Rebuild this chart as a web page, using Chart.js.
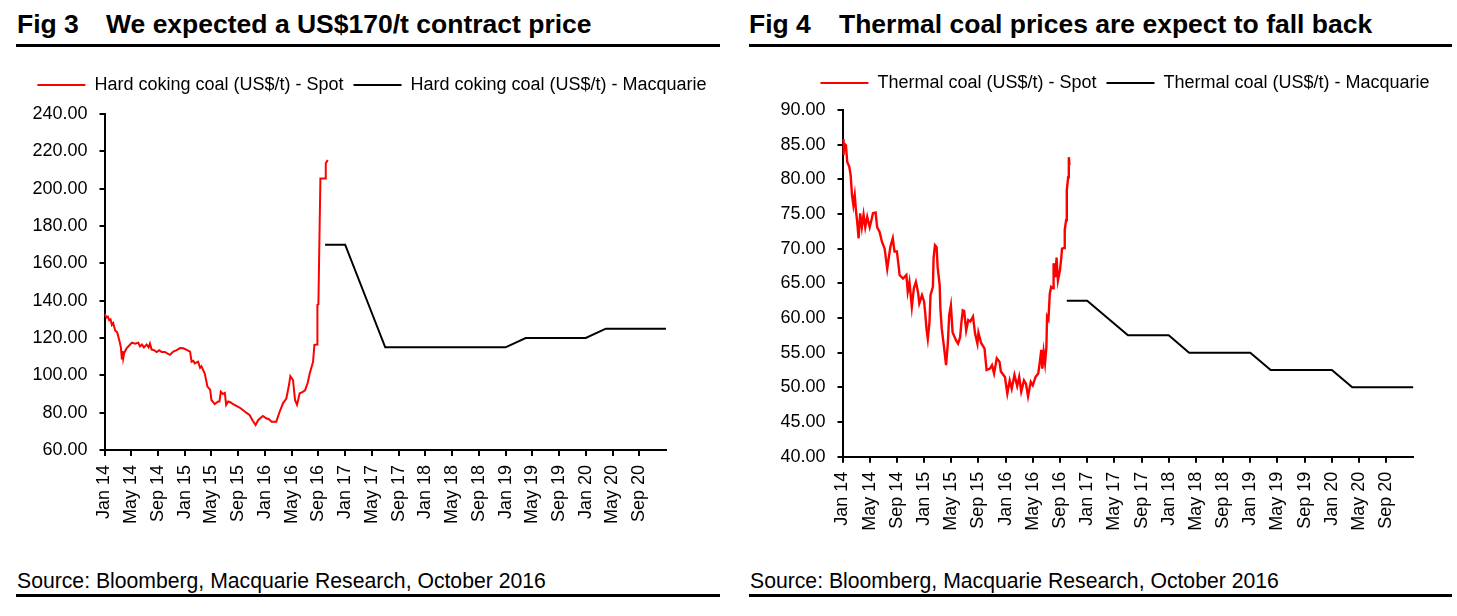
<!DOCTYPE html>
<html>
<head>
<meta charset="utf-8">
<script src="https://cdn.jsdelivr.net/npm/chart.js@4.4.1/dist/chart.umd.min.js"></script>
<style>
    body { margin: 0; width: 1457px; height: 616px; overflow: hidden; position: relative; background: #fff; color: #000; font-family: "Liberation Sans", Arial, sans-serif; }
    .title { position: absolute; top: 11px; font-weight: bold; font-size: 26.5px; line-height: 26.5px; white-space: nowrap; }
    .rule { position: absolute; height: 3px; background: #000; }
    .source { position: absolute; top: 570px; font-size: 21.2px; line-height: 21px; white-space: nowrap; }
    .box { position: absolute; }
</style>
</head>
<body>

<div class="title" style="left:17px">Fig 3</div>
<div class="title" style="left:106px">We expected a US$170/t contract price</div>
<div class="rule" style="left:16px; top:44px; width:704px"></div>
<div class="box" style="left:17px; top:56px; width:710px; height:490px"><canvas id="hcc-chart"></canvas></div>
<div class="source" style="left:17px">Source: Bloomberg, Macquarie Research, October 2016</div>
<div class="rule" style="left:16px; top:594px; width:704px"></div>

<div class="title" style="left:749px">Fig 4</div>
<div class="title" style="left:839px">Thermal coal prices are expect to fall back</div>
<div class="rule" style="left:749px; top:44px; width:703px"></div>
<div class="box" style="left:750px; top:54px; width:720px; height:490px"><canvas id="thermal-chart"></canvas></div>
<div class="source" style="left:750px">Source: Bloomberg, Macquarie Research, October 2016</div>
<div class="rule" style="left:749px; top:594px; width:703px"></div>

<script>
// x values are months since Jan 2014
const tickMonths = [0, 4, 8, 12, 16, 20, 24, 28, 32, 36, 40, 44, 48, 52, 56, 60, 64, 68, 72, 76, 80];
const tickLabels = ['Jan 14', 'May 14', 'Sep 14', 'Jan 15', 'May 15', 'Sep 15', 'Jan 16', 'May 16', 'Sep 16',
    'Jan 17', 'May 17', 'Sep 17', 'Jan 18', 'May 18', 'Sep 18', 'Jan 19', 'May 19', 'Sep 19', 'Jan 20', 'May 20', 'Sep 20'];

// Fig 3 - hard coking coal
const hccSpotMonths = [0, 0.3, 0.5, 0.7, 0.9, 1.1, 1.3, 1.6, 1.9, 2.2, 2.45, 2.6, 2.7, 2.8, 2.95, 3.3, 3.7, 4.1, 4.6, 5.05,
    5.3, 5.6, 5.9, 6.3, 6.6, 6.8, 7.05, 7.4, 7.8, 8.2, 8.55, 9.04, 9.5, 9.8, 10.3, 10.8, 11.3, 11.8, 12.3, 12.8,
    13.03, 13.3, 13.5, 14.0, 14.3, 14.5, 15.0, 15.4, 15.8, 16.0, 16.5, 17.0, 17.2, 17.4, 17.7, 18.0, 18.2, 18.5, 18.8, 19.3,
    19.8, 20.3, 20.7, 21.2, 21.7, 22.2, 22.6, 23.0, 23.7, 24.2, 24.6, 25.0, 25.7, 26.2, 26.7, 27.2, 27.6, 27.8, 28.2, 28.5,
    28.8, 29.2, 29.6, 30.0, 30.4, 30.7, 31.2, 31.4, 31.8, 31.85, 32.0, 32.1, 32.3, 33.0, 33.1, 33.4];
const hccSpotPrices = [133, 131, 131.5, 129.5, 130, 127, 128, 124, 123, 119, 115, 108.5, 113, 109, 112, 114.5, 116, 117.5, 117, 117.5,
    115.5, 116.5, 115, 116.5, 115, 117, 113.8, 113.5, 112.5, 113.5, 112.5, 112.5, 111.5, 111, 112.7, 113.5, 114.6, 114.5, 113.6, 112.7,
    107.3, 107.8, 106.4, 107.3, 104, 104.8, 101, 94, 92.3, 86.8, 84.6, 86, 86, 91.2, 90, 90.6, 84.2, 86, 85.6, 84.5,
    83.5, 82.5, 81.4, 80, 78.8, 75.5, 73.4, 76.1, 78.2, 77, 76.5, 75.2, 75.2, 80.5, 85, 87.6, 94.8, 99.6, 97.5, 86.8,
    84.2, 90.4, 91, 92, 96, 101, 107.3, 116.3, 116.5, 137.7, 138, 161, 205.5, 205.5, 213.6, 215.4];
const hccForecastMonths = [33, 36, 39, 42, 45, 48, 51, 54, 57, 60, 63, 66, 69, 72, 75, 78, 81, 84];
const hccForecastPrices = [170, 170, 142.5, 115, 115, 115, 115, 115, 115, 115, 120, 120, 120, 120, 125, 125, 125, 125];

// Fig 4 - thermal coal
const thermalSpotMonths = [0, 0.08, 0.15, 0.3, 0.5, 0.7, 1.0, 1.2, 1.4, 1.6, 1.8, 2.0, 2.17, 2.37, 2.6, 2.85, 3.1, 3.35, 3.64, 4.0,
    4.25, 4.48, 4.87, 5.1, 5.46, 5.8, 6.2, 6.58, 6.9, 7.05, 7.4, 7.65, 8.0, 8.25, 8.4, 8.9, 9.4, 9.6, 9.85, 10.2,
    10.5, 10.8, 11.1, 11.3, 11.7, 12.0, 12.2, 12.35, 12.55, 12.8, 12.95, 13.3, 13.4, 13.6, 13.85, 14.0, 14.3, 14.4, 14.6, 14.9,
    15.24, 15.5, 15.7, 15.95, 16.2, 16.7, 17.0, 17.3, 17.5, 17.7, 17.9, 18.2, 18.5, 18.8, 19.2, 19.5, 19.85, 20.0, 20.4, 20.9,
    21.2, 21.7, 22.0, 22.3, 22.7, 23.1, 23.3, 23.9, 24.25, 24.6, 24.9, 25.3, 25.7, 26.0, 26.3, 26.7, 27.0, 27.3, 27.7, 28.0,
    28.4, 28.8, 29.0, 29.25, 29.4, 29.6, 29.8, 30.0, 30.1, 30.3, 30.5, 30.7, 31.0, 31.06, 31.3, 31.5, 31.7, 32.0, 32.2, 32.3,
    32.6, 32.7, 32.9, 33.0, 33.2, 33.3, 33.4];
const thermalSpotPrices = [84.8, 85.8, 83.5, 85.1, 84.9, 82.5, 81.8, 80.6, 77.7, 76.3, 77.7, 75.3, 73.8, 71.5, 75.1, 73.1, 74.9, 73.1, 74.6, 73.1,
    74.1, 75.1, 75.2, 73.1, 72.4, 71, 70, 67.1, 69.3, 70.3, 71.5, 69.6, 69.6, 67.6, 66.2, 65.7, 66.2, 63.8, 65.2, 61.6,
    64.3, 65.2, 63.8, 62.1, 63.3, 62.4, 60.4, 58.5, 57, 59.4, 63.3, 64.5, 68.6, 70.5, 70.2, 67.3, 64.7, 61.4, 58.5, 56.1,
    53.2, 56.4, 60.4, 61.8, 57.9, 56.8, 56.3, 57.2, 59.4, 61.1, 61, 58.2, 59.7, 59.5, 60.2, 57.8, 56.3, 57.9, 56.4, 55.6,
    52.5, 52.7, 53.2, 52, 54.2, 53.7, 52.3, 51.5, 49.1, 51, 49.8, 51.8, 50.2, 51.5, 49.4, 51, 50.5, 48.7, 50.8, 50.3,
    51.5, 52, 53.4, 55.4, 52.7, 55.1, 53.5, 55.8, 60.2, 59.8, 63.5, 64.5, 64.3, 67.9, 65.9, 68.7, 65.4, 66.9, 68.8, 70,
    70.1, 72.7, 74.1, 78.4, 80.3, 83.2, 82];
const thermalForecastMonths = [33, 36, 39, 42, 45, 48, 51, 54, 57, 60, 63, 66, 69, 72, 75, 78, 81, 84];
const thermalForecastPrices = [62.5, 62.5, 60, 57.5, 57.5, 57.5, 55, 55, 55, 55, 52.5, 52.5, 52.5, 52.5, 50, 50, 50, 50];

Chart.defaults.font.family = '"Liberation Sans", Arial, sans-serif';
Chart.defaults.color = '#000';

function toPoints(xs, ys) {
    return xs.map((x, i) => ({ x: x, y: ys[i] }));
}

// adds extra space under the legend
function legendGap(extra) {
    return {
        id: 'legendGap',
        beforeInit(chart) {
            const fit = chart.legend.fit;
            chart.legend.fit = function () {
                fit.call(this);
                this.height += extra;
            };
        }
    };
}

function buildChart(id, cfg) {
    const ctx = document.getElementById(id).getContext('2d');
    return new Chart(ctx, {
        type: 'line',
        data: {
            datasets: [
                {
                    label: cfg.spotLabel,
                    data: toPoints(cfg.spotMonths, cfg.spotPrices),
                    borderColor: '#ff0000',
                    backgroundColor: '#ff0000',
                    borderWidth: cfg.spotWidth,
                    pointRadius: 0,
                    tension: 0
                },
                {
                    label: cfg.forecastLabel,
                    data: toPoints(cfg.forecastMonths, cfg.forecastPrices),
                    borderColor: '#000',
                    backgroundColor: '#000',
                    borderWidth: 2,
                    pointRadius: 0,
                    tension: 0
                }
            ]
        },
        options: {
            responsive: true,
            maintainAspectRatio: false,
            animation: false,
            events: [],
            layout: { padding: { top: 10, left: cfg.padLeft, right: 0, bottom: 0 } },
            plugins: {
                tooltip: { enabled: false },
                legend: {
                    display: true,
                    position: 'top',
                    labels: {
                        boxWidth: 48,
                        boxHeight: 2,
                        padding: 10,
                        font: { size: 18 },
                        generateLabels(chart) {
                            return Chart.defaults.plugins.legend.labels.generateLabels(chart)
                                .map(item => Object.assign(item, { fillStyle: item.strokeStyle, lineWidth: 0 }));
                        }
                    }
                }
            },
            scales: {
                x: {
                    type: 'linear',
                    min: 0,
                    max: 84,
                    afterBuildTicks: scale => { scale.ticks = tickMonths.map(v => ({ value: v })); },
                    afterFit: scale => { scale.height = cfg.xHeight; },
                    border: { display: true, color: '#000', width: 2 },
                    grid: { display: true, drawOnChartArea: false, drawTicks: true, tickLength: 6, color: '#000', lineWidth: 2 },
                    ticks: {
                        autoSkip: false,
                        minRotation: 90,
                        maxRotation: 90,
                        padding: 9,
                        font: { size: 18 },
                        callback: (value, index) => tickLabels[index]
                    }
                },
                y: {
                    type: 'linear',
                    min: cfg.yMin,
                    max: cfg.yMax,
                    afterFit: scale => { scale.width = cfg.yWidth; },
                    border: { display: true, color: '#000', width: 2 },
                    grid: { display: true, drawOnChartArea: false, drawTicks: true, tickLength: 5, color: '#000', lineWidth: 2 },
                    ticks: {
                        stepSize: cfg.yStep,
                        padding: 12,
                        font: { size: 18 },
                        callback: value => value.toFixed(2)
                    }
                },
                // empty right-hand box, keeps the plot narrower than the legend
                pad: {
                    type: 'linear',
                    position: 'right',
                    display: true,
                    afterFit: scale => { scale.width = cfg.rightGap; },
                    border: { display: false },
                    grid: { display: false },
                    ticks: { display: false }
                }
            }
        },
        plugins: [legendGap(cfg.legendGap)]
    });
}

buildChart('hcc-chart', {
    spotLabel: 'Hard coking coal (US$/t) - Spot',
    forecastLabel: 'Hard coking coal (US$/t) - Macquarie',
    spotMonths: hccSpotMonths,
    spotPrices: hccSpotPrices,
    forecastMonths: hccForecastMonths,
    forecastPrices: hccForecastPrices,
    spotWidth: 2,
    yMin: 60, yMax: 240, yStep: 20,
    padLeft: 0,
    yWidth: 87.5, rightGap: 61,
    xHeight: 96, legendGap: 10
});

buildChart('thermal-chart', {
    spotLabel: 'Thermal coal (US$/t) - Spot',
    forecastLabel: 'Thermal coal (US$/t) - Macquarie',
    spotMonths: thermalSpotMonths,
    spotPrices: thermalSpotPrices,
    forecastMonths: thermalForecastMonths,
    forecastPrices: thermalForecastPrices,
    spotWidth: 2.4,
    yMin: 40, yMax: 90, yStep: 5,
    padLeft: 30,
    yWidth: 62.5, rightGap: 56.6,
    xHeight: 87.3, legendGap: 8
});
</script>
</body>
</html>
